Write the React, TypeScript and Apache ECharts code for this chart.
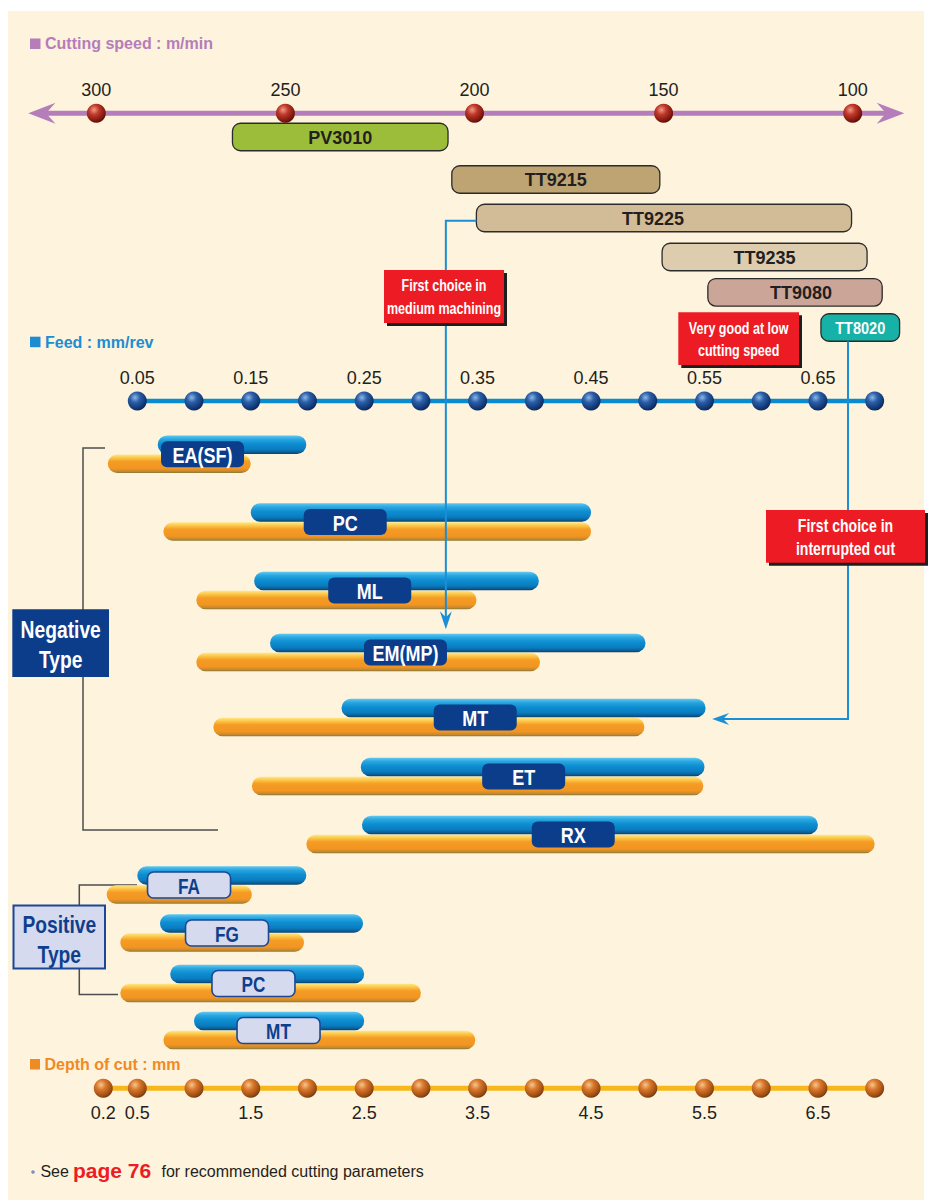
import React, { useEffect, useRef } from "react";
import * as echarts from "echarts";

// ---------------- data ----------------
const SPEED_TICKS = [300, 250, 200, 150, 100];
const FEED_TICKS = [0.05, 0.1, 0.15, 0.2, 0.25, 0.3, 0.35, 0.4, 0.45, 0.5, 0.55, 0.6, 0.65, 0.7];
const FEED_LABELS = ["0.05", "0.15", "0.25", "0.35", "0.45", "0.55", "0.65"];
const DEPTH_TICKS = [0.2, 0.5, 1, 1.5, 2, 2.5, 3, 3.5, 4, 4.5, 5, 5.5, 6, 6.5, 7];
const DEPTH_LABELS = ["0.2", "0.5", "1.5", "2.5", "3.5", "4.5", "5.5", "6.5"];

const GRADES = ["PV3010", "TT9215", "TT9225", "TT9235", "TT9080", "TT8020"];
const GRADE_SPEED_MAX = [264, 206, 199.5, 150.4, 138.3, 108.4];
const GRADE_SPEED_MIN = [207, 151, 100.3, 96.2, 92.2, 87.6];

const BREAKERS = ["EA(SF)", "PC", "ML", "EM(MP)", "MT", "ET", "RX", "FA", "FG", "PC", "MT"];
const BREAKER_TYPES = ["neg", "neg", "neg", "neg", "neg", "neg", "neg", "pos", "pos", "pos", "pos"];
const FEED_FROM = [0.068, 0.15, 0.153, 0.167, 0.23, 0.247, 0.248, 0.05, 0.07, 0.079, 0.1];
const FEED_TO = [0.199, 0.45, 0.404, 0.498, 0.551, 0.55, 0.65, 0.199, 0.249, 0.25, 0.25];
const DEPTH_FROM = [0.24, 0.73, 1.02, 1.02, 1.17, 1.51, 1.99, 0.23, 0.35, 0.35, 0.73];
const DEPTH_TO = [1.5, 4.5, 3.49, 4.05, 4.97, 5.49, 7.0, 1.51, 1.97, 3.0, 3.48];

// ---------------- layout ----------------
const W = 931;
const H = 1200;
const FEED_PX0 = 137.3; // pixel of feed 0.05
const FEED_PX_PER = 1134.4;
const SPEED_PX0 = 96.3; // pixel of 300 m/min
const SPEED_PX_PER = 3.782;
const DEPTH_PER_FEED = 10;

const Y_SPEED_AXIS = 113.3;
const Y_SPEED_LABEL = 90;
const Y_FEED_AXIS = 401;
const Y_FEED_LABEL = 378.3;
const Y_DEPTH_AXIS = 1088.3;
const Y_DEPTH_LABEL = 1112.7;

const GRADE_ROW_Y = [137, 179.5, 218, 257, 292.3, 327.5];
const GRADE_BAR_H = 27.5;
const GRADE_FILL = ["#9CBD3A", "#BFA473", "#D2BB97", "#DDCCAE", "#CBA698", "#16B2A7"];
const GRADE_TEXT_COLOR = ["#231F20", "#231F20", "#231F20", "#231F20", "#231F20", "#FFFFFF"];
const GRADE_TEXT_DX = [0, 0, -11, 0, 6, 0];

const BREAKER_ROW_Y = [454.2, 522, 590.5, 652.5, 717.5, 776.5, 834.5, 885, 933, 983.5, 1030.5];
const BREAKER_LABEL_FEED = [0.1075, 0.2333, 0.2549, 0.2864, 0.3479, 0.3906, 0.4343, 0.0956, 0.1291, 0.1524, 0.1745];
const BAR_H = 18.5;
const LABEL_W = 83;
const LABEL_H = 26;

const FONT = '"Liberation Sans", Arial, Helvetica, sans-serif';

const CREAM = "#FEF3DD";
const NAVY = "#0B3D8B";
const BLUE_LINE = "#1A8FD5";

const ball = (c0: string, c1: string, c2: string, c3: string) => ({
  type: "radial",
  x: 0.38,
  y: 0.32,
  r: 0.75,
  colorStops: [
    { offset: 0, color: c0 },
    { offset: 0.35, color: c1 },
    { offset: 0.8, color: c2 },
    { offset: 1, color: c3 },
  ],
});
const SPEED_BALL = ball("#F09A86", "#C0392A", "#7A150C", "#4A0904");
const FEED_BALL = ball("#8DB6E6", "#2B5FA8", "#0F3470", "#0A1F45");
const DEPTH_BALL = ball("#F6C68E", "#D9782C", "#9A4A12", "#5E2C07");

const vgrad = (stops: [number, string][]) => ({
  type: "linear",
  x: 0,
  y: 0,
  x2: 0,
  y2: 1,
  colorStops: stops.map(([offset, color]) => ({ offset, color })),
});
const BLUE_BAR = vgrad([
  [0, "#63C9F1"],
  [0.2, "#2AA7E1"],
  [0.45, "#0E8ED1"],
  [0.75, "#0A7DC1"],
  [0.9, "#0B6098"],
  [1, "#0B4068"],
]);
const ORANGE_BAR = vgrad([
  [0, "#FFE884"],
  [0.2, "#FBC243"],
  [0.38, "#F59C25"],
  [0.75, "#F29522"],
  [0.9, "#C98A2C"],
  [1, "#857838"],
]);

const txt = (
  text: string,
  x: number,
  y: number,
  size: number,
  color: string,
  weight: string = "normal",
  align: string = "center"
) => ({
  text,
  x,
  y,
  fill: color,
  fontSize: size,
  fontWeight: weight,
  fontFamily: FONT,
  align,
  textAlign: align,
  verticalAlign: "middle",
  textVerticalAlign: "middle",
});

// condensed bold text: Liberation Sans squeezed horizontally
const narrowText = (text: string, x: number, y: number, size: number, color: string, scale: number, z?: number) => {
  const el: any = {
    type: "text",
    x,
    y,
    scaleX: scale,
    style: txt(text, 0, 0, size, color, "bold"),
  };
  if (z !== undefined) el.z = z;
  return el;
};

export default function App() {
  const ref = useRef<HTMLDivElement>(null);

  useEffect(() => {
    if (!ref.current) return;
    const chart = echarts.init(ref.current, undefined, { renderer: "svg" });

    const feedMin = 0.05 - FEED_PX0 / FEED_PX_PER;
    const feedMax = 0.05 + (W - FEED_PX0) / FEED_PX_PER;
    const speedMin = 300 - (W - SPEED_PX0) / SPEED_PX_PER;
    const speedMax = 300 + SPEED_PX0 / SPEED_PX_PER;

    const series: any[] = [];

    // grade bars (cutting speed)
    series.push({
      type: "custom",
      name: "grades",
      xAxisIndex: 1,
      yAxisIndex: 0,
      z: 3,
      data: GRADES.map((_, i) => [GRADE_SPEED_MAX[i], GRADE_SPEED_MIN[i], GRADE_ROW_Y[i]]),
      renderItem: (params: any, api: any) => {
        const i = params.dataIndex;
        const a = api.coord([api.value(0), api.value(2)]);
        const b = api.coord([api.value(1), api.value(2)]);
        const x = Math.min(a[0], b[0]);
        const w = Math.abs(b[0] - a[0]);
        const last = i === GRADES.length - 1;
        return {
          type: "group",
          children: [
            {
              type: "rect",
              shape: { x, y: a[1] - GRADE_BAR_H / 2, width: w, height: GRADE_BAR_H, r: 8 },
              style: { fill: GRADE_FILL[i], stroke: "#2B2B2B", lineWidth: 1.3 },
            },
            last
              ? narrowText(GRADES[i], x + w / 2, a[1] + 0.5, 16.5, GRADE_TEXT_COLOR[i], 0.88)
              : {
                  type: "text",
                  style: txt(GRADES[i], x + w / 2 + GRADE_TEXT_DX[i], a[1] + 0.5, 18, GRADE_TEXT_COLOR[i], "bold"),
                },
          ],
        };
      },
    });

    // speed axis dots + labels
    series.push({
      type: "custom",
      name: "speedTicks",
      xAxisIndex: 1,
      yAxisIndex: 0,
      z: 4,
      data: SPEED_TICKS.map((v) => [v, Y_SPEED_AXIS]),
      renderItem: (params: any, api: any) => {
        const p = api.coord([api.value(0), api.value(1)]);
        const lp = api.coord([api.value(0), Y_SPEED_LABEL]);
        return {
          type: "group",
          children: [
            { type: "circle", shape: { cx: p[0], cy: p[1], r: 9.5 }, style: { fill: SPEED_BALL } },
            { type: "text", style: txt(String(SPEED_TICKS[params.dataIndex]), lp[0], lp[1], 18, "#231F20") },
          ],
        };
      },
    });

    // feed axis line
    series.push({
      type: "custom",
      name: "feedLine",
      xAxisIndex: 0,
      yAxisIndex: 0,
      z: 3,
      data: [[FEED_TICKS[0], FEED_TICKS[FEED_TICKS.length - 1], Y_FEED_AXIS]],
      renderItem: (params: any, api: any) => {
        const a = api.coord([api.value(0), api.value(2)]);
        const b = api.coord([api.value(1), api.value(2)]);
        return {
          type: "line",
          shape: { x1: a[0], y1: a[1], x2: b[0], y2: b[1] },
          style: { stroke: "#0A8BD0", lineWidth: 4.5 },
        };
      },
    });
    // feed dots
    series.push({
      type: "custom",
      name: "feedTicks",
      xAxisIndex: 0,
      yAxisIndex: 0,
      z: 4,
      data: FEED_TICKS.map((v) => [v, Y_FEED_AXIS]),
      renderItem: (params: any, api: any) => {
        const p = api.coord([api.value(0), api.value(1)]);
        return { type: "circle", shape: { cx: p[0], cy: p[1], r: 9.5 }, style: { fill: FEED_BALL } };
      },
    });
    // feed labels
    series.push({
      type: "custom",
      name: "feedLabels",
      xAxisIndex: 0,
      yAxisIndex: 0,
      z: 4,
      data: FEED_LABELS.map((s) => [parseFloat(s), Y_FEED_LABEL]),
      renderItem: (params: any, api: any) => {
        const p = api.coord([api.value(0), api.value(1)]);
        return { type: "text", style: txt(FEED_LABELS[params.dataIndex], p[0], p[1], 18, "#231F20") };
      },
    });

    // depth axis line
    series.push({
      type: "custom",
      name: "depthLine",
      xAxisIndex: 0,
      yAxisIndex: 0,
      z: 3,
      data: [[DEPTH_TICKS[0] / DEPTH_PER_FEED, DEPTH_TICKS[DEPTH_TICKS.length - 1] / DEPTH_PER_FEED, Y_DEPTH_AXIS]],
      renderItem: (params: any, api: any) => {
        const a = api.coord([api.value(0), api.value(2)]);
        const b = api.coord([api.value(1), api.value(2)]);
        return {
          type: "line",
          shape: { x1: a[0], y1: a[1], x2: b[0], y2: b[1] },
          style: { stroke: "#F7B71B", lineWidth: 5 },
        };
      },
    });
    series.push({
      type: "custom",
      name: "depthTicks",
      xAxisIndex: 0,
      yAxisIndex: 0,
      z: 4,
      data: DEPTH_TICKS.map((v) => [v / DEPTH_PER_FEED, Y_DEPTH_AXIS]),
      renderItem: (params: any, api: any) => {
        const p = api.coord([api.value(0), api.value(1)]);
        return { type: "circle", shape: { cx: p[0], cy: p[1], r: 9.5 }, style: { fill: DEPTH_BALL } };
      },
    });
    series.push({
      type: "custom",
      name: "depthLabels",
      xAxisIndex: 0,
      yAxisIndex: 0,
      z: 4,
      data: DEPTH_LABELS.map((s) => [parseFloat(s) / DEPTH_PER_FEED, Y_DEPTH_LABEL]),
      renderItem: (params: any, api: any) => {
        const p = api.coord([api.value(0), api.value(1)]);
        return { type: "text", style: txt(DEPTH_LABELS[params.dataIndex], p[0], p[1], 18, "#231F20") };
      },
    });

    // chip breaker bars
    series.push({
      type: "custom",
      name: "breakers",
      xAxisIndex: 0,
      yAxisIndex: 0,
      z: 3,
      data: BREAKERS.map((_, i) => [
        FEED_FROM[i],
        FEED_TO[i],
        DEPTH_FROM[i] / DEPTH_PER_FEED,
        DEPTH_TO[i] / DEPTH_PER_FEED,
        BREAKER_ROW_Y[i],
        BREAKER_LABEL_FEED[i],
      ]),
      renderItem: (params: any, api: any) => {
        const i = params.dataIndex;
        const y = api.value(4);
        const f1 = api.coord([api.value(0), y]);
        const f2 = api.coord([api.value(1), y]);
        const d1 = api.coord([api.value(2), y]);
        const d2 = api.coord([api.value(3), y]);
        const lc = api.coord([api.value(5), y]);
        const pos = BREAKER_TYPES[i] === "pos";
        return {
          type: "group",
          children: [
            {
              type: "rect",
              shape: { x: d1[0], y: d1[1] + 0.3, width: d2[0] - d1[0], height: BAR_H, r: BAR_H / 2 },
              style: { fill: ORANGE_BAR },
            },
            {
              type: "rect",
              shape: { x: f1[0], y: f1[1] - BAR_H - 0.3, width: f2[0] - f1[0], height: BAR_H, r: BAR_H / 2 },
              style: { fill: BLUE_BAR },
            },
            {
              type: "rect",
              shape: { x: lc[0] - LABEL_W / 2, y: lc[1] - LABEL_H / 2, width: LABEL_W, height: LABEL_H, r: 6 },
              style: pos ? { fill: "#D5DAEE", stroke: "#1B4797", lineWidth: 1.6 } : { fill: NAVY },
            },
            narrowText(BREAKERS[i], lc[0], lc[1] + 0.8, pos ? 21.5 : 22.5, pos ? "#0E3F8D" : "#FFFFFF", 0.8),
          ],
        };
      },
    });

    chart.setOption({
      animation: false,
      grid: { left: 0, top: 0, width: W, height: H, show: false },
      xAxis: [
        { type: "value", min: feedMin, max: feedMax, show: false },
        { type: "value", min: speedMin, max: speedMax, inverse: true, show: false },
      ],
      yAxis: [{ type: "value", min: 0, max: H, inverse: true, show: false }],
      series,
    });

    const fx = (v: number) => chart.convertToPixel({ xAxisIndex: 0 } as any, v) as unknown as number;
    const sx = (v: number) => chart.convertToPixel({ xAxisIndex: 1 } as any, v) as unknown as number;

    // leader line 1: TT9225 -> EM(MP)
    const l1x0 = sx(GRADE_SPEED_MAX[2]);
    const l1y0 = 220.7;
    const l1x = fx(0.322);
    const l1tip = 629.3;
    // leader line 2: TT8020 -> MT
    const l2x = fx(0.6765);
    const l2y0 = GRADE_ROW_Y[5] + GRADE_BAR_H / 2;
    const l2y = 719;
    const l2tip = fx(FEED_TO[4]) + 6.5;

    const redBox = (x: number, y: number, w: number, h: number, l1: string, l2: string, size: number, lh: number) => [
      { type: "rect", z: 10, shape: { x: x + 3, y: y + 3, width: w, height: h }, style: { fill: "#1E1E1E" } },
      { type: "rect", z: 11, shape: { x, y, width: w, height: h }, style: { fill: "#ED1C24" } },
      narrowText(l1, x + w / 2, y + h / 2 - lh / 2 + 0.5, size, "#FFFFFF", 0.76, 12),
      narrowText(l2, x + w / 2, y + h / 2 + lh / 2 + 0.5, size, "#FFFFFF", 0.76, 12),
    ];

    const elements: any[] = [
      { type: "rect", z: 0, shape: { x: 8, y: 11, width: 916, height: H - 11 }, style: { fill: CREAM } },
      // titles
      { type: "rect", z: 1, shape: { x: 30, y: 38.5, width: 10.5, height: 10.5 }, style: { fill: "#B57DBA" } },
      { type: "text", z: 1, style: txt("Cutting speed : m/min", 45, 43.7, 16, "#B57DBA", "bold", "left") },
      { type: "rect", z: 1, shape: { x: 30, y: 336.7, width: 10.5, height: 10.5 }, style: { fill: "#1C8DD2" } },
      { type: "text", z: 1, style: txt("Feed : mm/rev", 45, 342, 16, "#1C8DD2", "bold", "left") },
      { type: "rect", z: 1, shape: { x: 30, y: 1059, width: 10, height: 10.5 }, style: { fill: "#F08A24" } },
      { type: "text", z: 1, style: txt("Depth of cut : mm", 44.5, 1064, 16, "#F08A24", "bold", "left") },
      // speed axis line + arrows
      {
        type: "line",
        z: 1,
        shape: { x1: 40, y1: Y_SPEED_AXIS, x2: 892, y2: Y_SPEED_AXIS },
        style: { stroke: "#B57DBA", lineWidth: 5 },
      },
      {
        type: "polygon",
        z: 1,
        shape: {
          points: [
            [28.3, Y_SPEED_AXIS],
            [55.5, Y_SPEED_AXIS - 10.5],
            [46, Y_SPEED_AXIS],
            [55.5, Y_SPEED_AXIS + 10.5],
          ],
        },
        style: { fill: "#B57DBA" },
      },
      {
        type: "polygon",
        z: 1,
        shape: {
          points: [
            [904.3, Y_SPEED_AXIS],
            [876.7, Y_SPEED_AXIS - 10.5],
            [886, Y_SPEED_AXIS],
            [876.7, Y_SPEED_AXIS + 10.5],
          ],
        },
        style: { fill: "#B57DBA" },
      },
      // negative bracket
      {
        type: "polyline",
        z: 1,
        shape: { points: [[105, 448], [83, 448], [83, 830], [218, 830]] },
        style: { stroke: "#4D4D4D", lineWidth: 1.5, fill: null },
      },
      { type: "rect", z: 10, shape: { x: 12.3, y: 609.3, width: 96.7, height: 67.7 }, style: { fill: NAVY } },
      narrowText("Negative", 60.7, 630.5, 23.5, "#FFFFFF", 0.82, 11),
      narrowText("Type", 60.7, 660.5, 23.5, "#FFFFFF", 0.82, 11),
      // positive bracket
      {
        type: "polyline",
        z: 1,
        shape: { points: [[137, 885], [79.3, 885], [79.3, 994.5], [118, 994.5]] },
        style: { stroke: "#4D4D4D", lineWidth: 1.5, fill: null },
      },
      {
        type: "rect",
        z: 10,
        shape: { x: 13.5, y: 905.5, width: 91.5, height: 63 },
        style: { fill: "#D5DAEE", stroke: "#1B4797", lineWidth: 2 },
      },
      narrowText("Positive", 59.3, 925.5, 23.5, "#0E3F8D", 0.82, 11),
      narrowText("Type", 59.3, 955.5, 23.5, "#0E3F8D", 0.82, 11),
      // leader lines
      {
        type: "polyline",
        z: 6,
        shape: { points: [[l1x0, l1y0], [l1x, l1y0], [l1x, l1tip - 10]] },
        style: { stroke: BLUE_LINE, lineWidth: 2, fill: null },
      },
      {
        type: "polygon",
        z: 6,
        shape: { points: [[l1x, l1tip], [l1x - 6, l1tip - 18], [l1x, l1tip - 12], [l1x + 6, l1tip - 18]] },
        style: { fill: BLUE_LINE },
      },
      {
        type: "polyline",
        z: 6,
        shape: { points: [[l2x, l2y0], [l2x, l2y], [l2tip + 10, l2y]] },
        style: { stroke: BLUE_LINE, lineWidth: 2, fill: null },
      },
      {
        type: "polygon",
        z: 6,
        shape: { points: [[l2tip, l2y], [l2tip + 17, l2y - 6], [l2tip + 11, l2y], [l2tip + 17, l2y + 6]] },
        style: { fill: BLUE_LINE },
      },
      // red callouts
      ...redBox(384, 270, 120, 53, "First choice in", "medium machining", 16.5, 23),
      ...redBox(678.3, 312.3, 120.7, 52.7, "Very good at low", "cutting speed", 16.5, 21.6),
      ...redBox(766, 510, 159, 52.7, "First choice in", "interrupted cut", 18.5, 23.3),
      // footer
      { type: "circle", z: 1, shape: { cx: 33, cy: 1172, r: 1.8 }, style: { fill: "#7B8FC4" } },
      { type: "text", z: 1, style: txt("See", 40.4, 1171.5, 16, "#231F20", "normal", "left") },
      { type: "text", z: 1, style: txt("page 76", 73, 1170, 21, "#ED1C24", "bold", "left") },
      {
        type: "text",
        z: 1,
        style: txt("for recommended cutting parameters", 161.5, 1171.5, 16, "#231F20", "normal", "left"),
      },
    ];

    chart.setOption({ graphic: { elements } });

    return () => chart.dispose();
  }, []);

  return (
    <div
      ref={ref}
      style={{ position: "absolute", left: 0, top: 0, width: W, height: H, background: "#FFFFFF" }}
    />
  );
}
